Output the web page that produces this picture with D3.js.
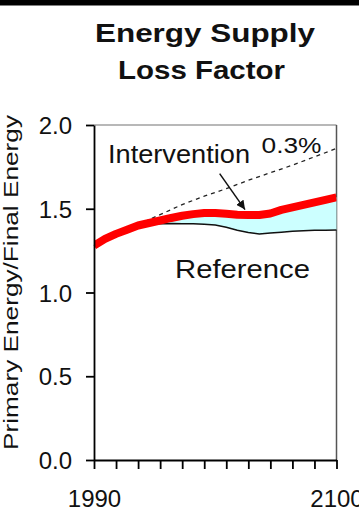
<!DOCTYPE html>
<html>
<head>
<meta charset="utf-8">
<script src="https://cdn.jsdelivr.net/npm/d3@7"></script>
<style>
  html, body { margin: 0; padding: 0; background: #fff; }
  svg { display: block; }
  text { font-family: "Liberation Sans", Arial, sans-serif; fill: #111; }
</style>
</head>
<body>
<svg id="chart" width="359" height="521"></svg>
<script>
// Years sampled every 5 years, 1990–2100
const years = [1990, 1995, 2000, 2005, 2010, 2015, 2020, 2025, 2030, 2035, 2040, 2045,
               2050, 2055, 2060, 2065, 2070, 2075, 2080, 2085, 2090, 2095, 2100];

// Intervention scenario (thick red line)
const intervention = [1.28, 1.32, 1.35, 1.375, 1.40, 1.415, 1.43, 1.445, 1.458, 1.468, 1.474, 1.475,
                      1.47, 1.464, 1.462, 1.463, 1.472, 1.493, 1.508, 1.523, 1.538, 1.553, 1.568];

// Reference scenario (thin black line)
const reference = [1.28, 1.32, 1.35, 1.375, 1.395, 1.405, 1.41, 1.412, 1.41, 1.41, 1.408, 1.403,
                   1.39, 1.372, 1.358, 1.35, 1.355, 1.36, 1.365, 1.369, 1.371, 1.372, 1.373];

// 0.3% per year trend (dashed line), by decade
const trendYears = [1990, 2000, 2010, 2020, 2030, 2040, 2050, 2060, 2070, 2080, 2090, 2100];
const trend = [1.28, 1.34, 1.405, 1.465, 1.525, 1.575, 1.62, 1.67, 1.715, 1.76, 1.81, 1.86];

const yTicks = [0, 0.5, 1.0, 1.5, 2.0];
const xTicks = d3.range(1990, 2101, 10);
const xLabels = [1990, 2100];

const svg = d3.select("#chart");

// Dark band across the top edge
svg.append("rect").attr("x", 0).attr("y", 0).attr("width", 359).attr("height", 5.5).attr("fill", "#000");

const x = d3.scaleLinear().domain([1990, 2100]).range([94, 336.5]);
const y = d3.scaleLinear().domain([0, 2]).range([460, 125]);

// Helper for stretched labels
function label(px, py, size, len, txt, opts = {}) {
  return svg.append("text").attr("x", px).attr("y", py)
    .attr("font-size", size)
    .attr("font-weight", opts.bold ? "bold" : null)
    .attr("text-anchor", opts.anchor || "start")
    .attr("fill", opts.fill || "#111")
    .attr("textLength", len).attr("lengthAdjust", "spacingAndGlyphs")
    .text(txt);
}

// Title
label(205, 41.5, 25.5, 220, "Energy Supply", { bold: true, anchor: "middle" });
label(201.5, 78.5, 25.5, 167, "Loss Factor", { bold: true, anchor: "middle" });

// Plot frame: top and right edges in grey
svg.append("line").attr("x1", x(1990)).attr("x2", x(2100)).attr("y1", y(2)).attr("y2", y(2))
  .attr("stroke", "#a0a0a0").attr("stroke-width", 1.5);
svg.append("line").attr("x1", x(2100)).attr("x2", x(2100)).attr("y1", y(2)).attr("y2", y(0))
  .attr("stroke", "#555").attr("stroke-width", 1.5);

// Gap between scenarios (cyan band)
const idx = years.map((_, i) => i).filter(i => years[i] >= 2020);
const band = d3.area()
  .x(i => x(years[i]))
  .y0(i => y(reference[i]))
  .y1(i => y(intervention[i]));
svg.append("path").datum(idx).attr("d", band).attr("fill", "#ccffff");

// 0.3% trend
svg.append("path").datum(trendYears.map((t, i) => [t, trend[i]]))
  .attr("d", d3.line().x(d => x(d[0])).y(d => y(d[1])))
  .attr("fill", "none").attr("stroke", "#222").attr("stroke-width", 1.3)
  .attr("stroke-dasharray", "4,4");

// Reference line
svg.append("path").datum(years.map((t, i) => [t, reference[i]]))
  .attr("d", d3.line().x(d => x(d[0])).y(d => y(d[1])))
  .attr("fill", "none").attr("stroke", "#111").attr("stroke-width", 1.5);

// Intervention line
const clip = svg.append("clipPath").attr("id", "plotclip");
clip.append("rect").attr("x", x(1990)).attr("y", y(2)).attr("width", x(2100) - x(1990)).attr("height", y(0) - y(2));
svg.append("path").datum(years.map((t, i) => [t, intervention[i]]))
  .attr("clip-path", "url(#plotclip)")
  .attr("d", d3.line().x(d => x(d[0])).y(d => y(d[1])))
  .attr("fill", "none").attr("stroke", "#ff0000").attr("stroke-width", 8)
  .attr("stroke-linejoin", "round");

// Axes
const yAxis = svg.append("g").attr("transform", `translate(${x(1990)},0)`)
  .call(d3.axisLeft(y).tickValues(yTicks).tickFormat(d3.format(".1f")).tickSize(8).tickSizeOuter(0).tickPadding(14));
const xAxis = svg.append("g").attr("transform", `translate(0,${y(0)})`)
  .call(d3.axisBottom(x).tickValues(xTicks).tickFormat(d => xLabels.includes(d) ? String(d) : "")
    .tickSize(9).tickSizeOuter(0).tickPadding(21));
[yAxis, xAxis].forEach(g => {
  g.select(".domain").attr("stroke", "#000").attr("stroke-width", 1.8);
  g.selectAll(".tick line").attr("stroke", "#000").attr("stroke-width", 1.8);
  g.selectAll("text").attr("font-size", 24).attr("fill", "#111")
    .attr("font-family", "Liberation Sans, Arial, sans-serif");
});
yAxis.selectAll("text").attr("dy", "0.36em");

// Y-axis title
svg.append("text").attr("transform", "translate(17.5,282.5) rotate(-90)")
  .attr("text-anchor", "middle").attr("font-size", 20)
  .attr("textLength", 335).attr("lengthAdjust", "spacingAndGlyphs")
  .text("Primary Energy/Final Energy");

// Annotations
label(108, 163, 25, 142, "Intervention");
label(261.5, 153, 22, 60, "0.3%", { fill: "#333" });
label(175, 278, 25, 135, "Reference");

// Arrow pointing to the intervention line
const defs = svg.append("defs");
defs.append("marker").attr("id", "arrow").attr("viewBox", "0 0 10 10")
  .attr("refX", 10).attr("refY", 5).attr("markerWidth", 9).attr("markerHeight", 9)
  .attr("markerUnits", "userSpaceOnUse").attr("orient", "auto")
  .append("path").attr("d", "M0,0 L10,5 L0,10 Z").attr("fill", "#111");
svg.append("line")
  .attr("x1", x(2047)).attr("y1", y(1.71))
  .attr("x2", x(2058.5)).attr("y2", y(1.495))
  .attr("stroke", "#111").attr("stroke-width", 1.5).attr("marker-end", "url(#arrow)");
</script>
</body>
</html>
